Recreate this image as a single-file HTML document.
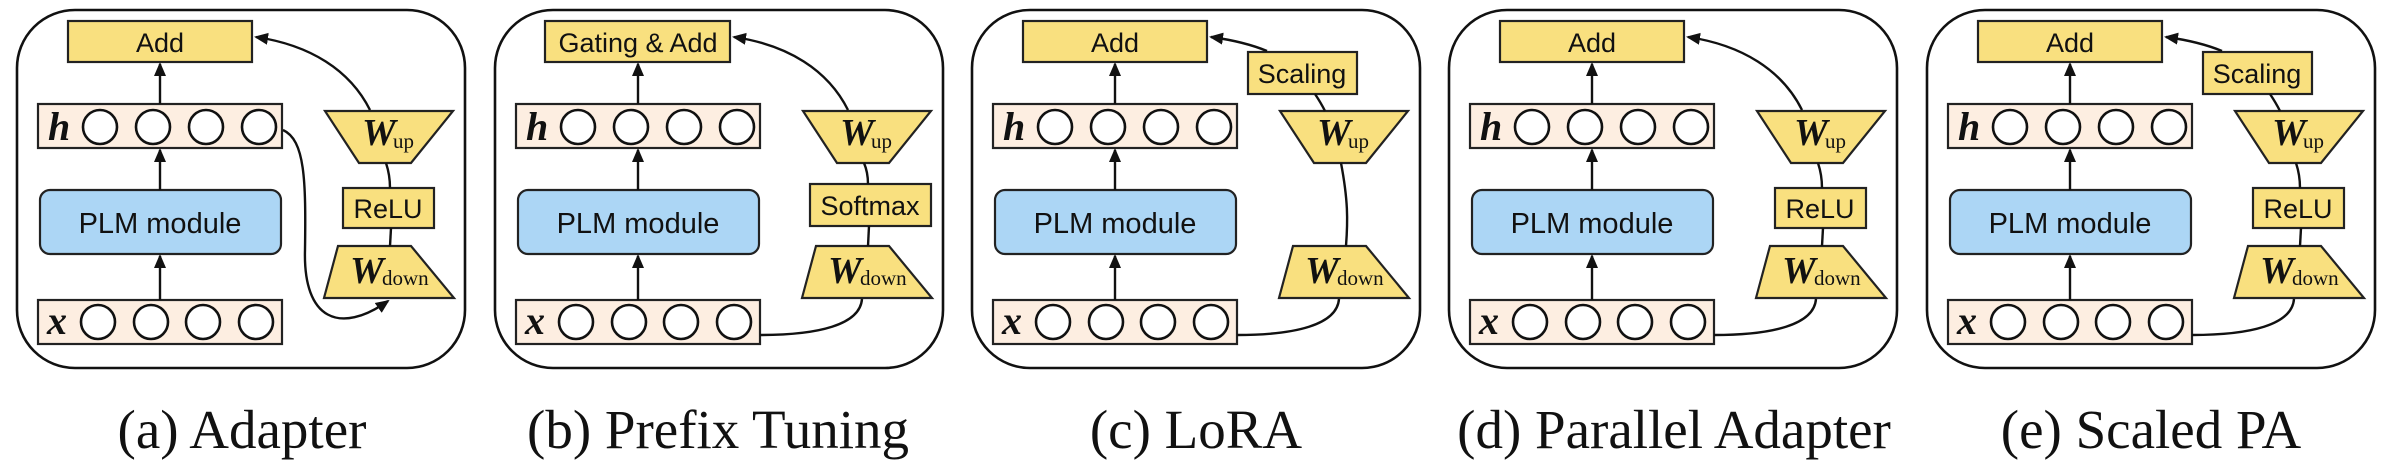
<!DOCTYPE html>
<html><head><meta charset="utf-8"><style>
html,body{margin:0;padding:0;background:#fff;}
svg{display:block;}
.s{font-family:"Liberation Sans",sans-serif;font-size:27px;fill:#111;text-anchor:middle;}
.p{font-family:"Liberation Sans",sans-serif;font-size:29px;fill:#111;text-anchor:middle;}
.m{font-family:"Liberation Serif",serif;font-weight:bold;font-style:italic;fill:#111;}
.sub{font-family:"Liberation Serif",serif;font-size:21px;fill:#111;}
.cap{font-family:"Liberation Serif",serif;font-size:55px;fill:#111;text-anchor:middle;}
.y{fill:#f9e07f;stroke:#222;stroke-width:2.2;}
.r{fill:#fdeee1;stroke:#222;stroke-width:2.2;}
.c{fill:#fff;stroke:#111;stroke-width:2.6;}
.ln{fill:none;stroke:#111;stroke-width:2.4;}
</style></head><body>
<svg width="2388" height="474" viewBox="0 0 2388 474" xmlns="http://www.w3.org/2000/svg">
<defs>
<marker id="ar2" markerWidth="14" markerHeight="14" refX="12" refY="7" orient="auto" markerUnits="userSpaceOnUse" viewBox="0 0 14 14">
<path d="M0,1 L14,7 L0,13 Z" fill="#111"/></marker>
<g id="base">
<rect x="17" y="10" width="448" height="358" rx="58" fill="none" stroke="#111" stroke-width="2.6"/>
<rect class="r" x="38" y="104" width="244" height="44"/>
<text class="m" x="48" y="140" font-size="40">h</text>
<circle class="c" cx="100" cy="127" r="17"/><circle class="c" cx="153" cy="127" r="17"/>
<circle class="c" cx="206" cy="127" r="17"/><circle class="c" cx="259" cy="127" r="17"/>
<rect x="40" y="190" width="241" height="64" rx="10" fill="#acd6f5" stroke="#222" stroke-width="2.2"/>
<text class="p" x="160" y="233">PLM module</text>
<rect class="r" x="38" y="300" width="244" height="44"/>
<text class="m" x="47" y="334" font-size="40">x</text>
<circle class="c" cx="98" cy="322" r="17"/><circle class="c" cx="151" cy="322" r="17"/>
<circle class="c" cx="203" cy="322" r="17"/><circle class="c" cx="256" cy="322" r="17"/>
<line class="ln" x1="160" y1="104" x2="160" y2="64" marker-end="url(#ar2)"/>
<line class="ln" x1="160" y1="190" x2="160" y2="150" marker-end="url(#ar2)"/>
<line class="ln" x1="160" y1="300" x2="160" y2="256" marker-end="url(#ar2)"/>
<polygon class="y" points="325,111 453,111 411,163 359,163"/>
<text class="m" x="362" y="145" font-size="38">W</text><text class="sub" x="393" y="148">up</text>
<polygon class="y" points="338,246 411,246 454,298 324,298"/>
<text class="m" x="350" y="283" font-size="38">W</text><text class="sub" x="382" y="285">down</text>
</g>
</defs>

<g transform="translate(0,0)">
<use href="#base"/>
<rect class="y" x="68" y="21" width="184" height="41"/><text class="s" x="160" y="52">Add</text>
<path class="ln" d="M370,110 C350,70 310,45 256,37" marker-end="url(#ar2)"/>
<rect class="y" x="343" y="188" width="91" height="40"/><text class="s" x="388" y="218">ReLU</text>
<path class="ln" d="M386,163 C389,172 390,180 390,188"/>
<line class="ln" x1="391" y1="228" x2="390" y2="246"/>
<path class="ln" d="M283,130 C305,140 306,180 305,250 C303,320 340,335 388,301" marker-end="url(#ar2)"/>
<text class="cap" x="242" y="448">(a) Adapter</text>
</g>

<g transform="translate(478,0)">
<use href="#base"/>
<rect class="y" x="67" y="21" width="185" height="41"/><text class="s" x="160" y="52">Gating &amp; Add</text>
<path class="ln" d="M370,110 C350,70 310,45 256,37" marker-end="url(#ar2)"/>
<rect class="y" x="332" y="184" width="121" height="42"/><text class="s" x="392" y="215">Softmax</text>
<path class="ln" d="M386,163 C389,170 390,178 390,184"/>
<line class="ln" x1="391" y1="226" x2="390" y2="246"/>
<path class="ln" d="M282,335 C340,335 382,325 384,299"/>
<text class="cap" x="240" y="448">(b) Prefix Tuning</text>
</g>

<g transform="translate(955,0)">
<use href="#base"/>
<rect class="y" x="68" y="21" width="184" height="41"/><text class="s" x="160" y="52">Add</text>
<rect class="y" x="293" y="52" width="109" height="42"/><text class="s" x="347" y="83">Scaling</text>
<path class="ln" d="M312,51 C295,44 278,40 256,37" marker-end="url(#ar2)"/>
<path class="ln" d="M360,94 C364,100 367,105 370,111"/>
<path class="ln" d="M386,163 C393,200 393,220 391,246"/>
<path class="ln" d="M282,335 C340,335 382,325 384,299"/>
<text class="cap" x="241" y="448">(c) LoRA</text>
</g>

<g transform="translate(1432,0)">
<use href="#base"/>
<rect class="y" x="68" y="21" width="184" height="41"/><text class="s" x="160" y="52">Add</text>
<path class="ln" d="M370,110 C350,70 310,45 256,37" marker-end="url(#ar2)"/>
<rect class="y" x="343" y="188" width="91" height="40"/><text class="s" x="388" y="218">ReLU</text>
<path class="ln" d="M386,163 C389,172 390,180 390,188"/>
<line class="ln" x1="391" y1="228" x2="390" y2="246"/>
<path class="ln" d="M282,335 C340,335 382,325 384,299"/>
<text class="cap" x="242" y="448">(d) Parallel Adapter</text>
</g>

<g transform="translate(1910,0)">
<use href="#base"/>
<rect class="y" x="68" y="21" width="184" height="41"/><text class="s" x="160" y="52">Add</text>
<rect class="y" x="293" y="52" width="109" height="42"/><text class="s" x="347" y="83">Scaling</text>
<path class="ln" d="M312,51 C295,44 278,40 256,37" marker-end="url(#ar2)"/>
<path class="ln" d="M360,94 C364,100 367,105 370,111"/>
<rect class="y" x="343" y="188" width="91" height="40"/><text class="s" x="388" y="218">ReLU</text>
<path class="ln" d="M386,163 C389,172 390,180 390,188"/>
<line class="ln" x1="391" y1="228" x2="390" y2="246"/>
<path class="ln" d="M282,335 C340,335 382,325 384,299"/>
<text class="cap" x="241" y="448">(e) Scaled PA</text>
</g>
</svg>
</body></html>
